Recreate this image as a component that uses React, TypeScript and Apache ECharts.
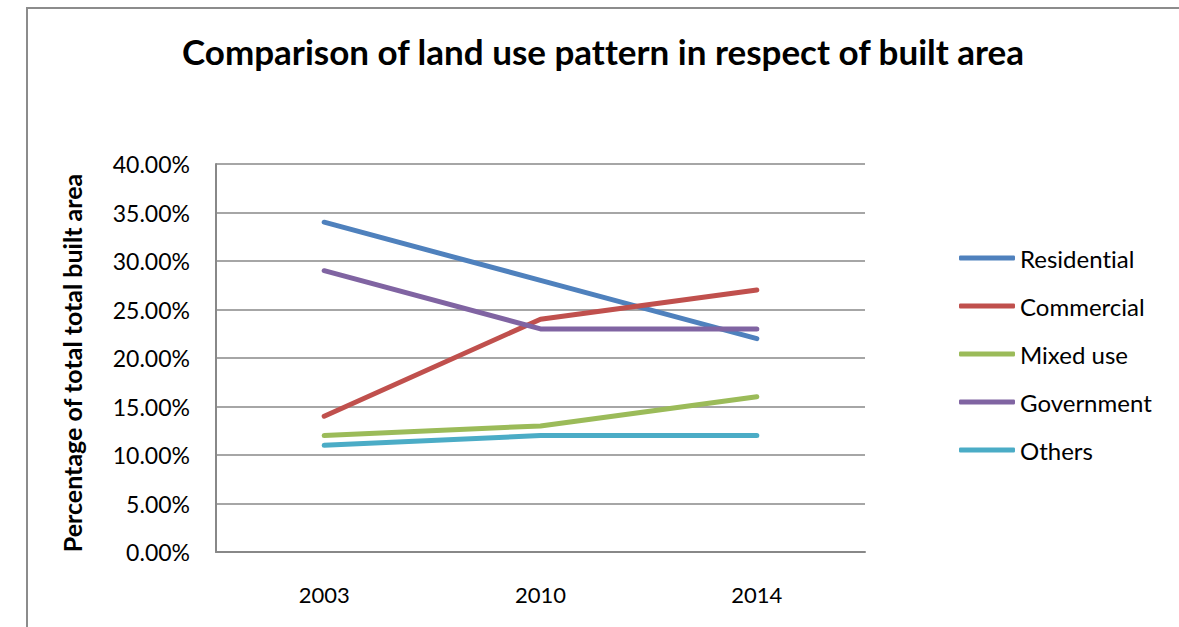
import React, { useEffect, useRef } from "react";
import * as echarts from "echarts";

const years = ["2003", "2010", "2014"];
const residential = [34, 28, 22];
const commercial = [14, 24, 27];
const mixedUse = [12, 13, 16];
const government = [29, 23, 23];
const others = [11, 12, 12];
const seriesNames = ["Residential", "Commercial", "Mixed use", "Government", "Others"];
const colors = ["#4F81BD", "#C0504D", "#9BBB59", "#8064A2", "#4BACC6"];

const FONT = "Lato, 'Open Sans', sans-serif";

export default function App() {
  const ref = useRef<HTMLDivElement>(null);
  useEffect(() => {
    document.body.style.margin = "0";
    const styleEl = document.createElement("style");
    styleEl.textContent = "svg text { font-variant-ligatures: none; font-feature-settings: 'liga' 0; }";
    document.head.appendChild(styleEl);
    const chart = echarts.init(ref.current!, undefined, { renderer: "svg" });
    const data = [residential, commercial, mixedUse, government, others];
    chart.setOption({
      animation: false,
      backgroundColor: "#ffffff",
      textStyle: { fontFamily: FONT },
      graphic: [
        {
          type: "rect",
          shape: { x: 27, y: 8, width: 1200, height: 700 },
          style: { fill: "none", stroke: "#8c8c8c", lineWidth: 2 },
          silent: true,
        },
        {
          type: "text",
          x: 603,
          y: 51,
          style: {
            text: "Comparison of land use pattern in respect of built area",
            fontFamily: FONT,
            fontWeight: "bold",
            fontSize: 35,
            fill: "#000",
            textAlign: "center",
            textVerticalAlign: "middle",
          },
        },
      ],
      legend: {
        orient: "vertical",
        left: 954,
        top: 241,
        icon: "roundRect",
        itemWidth: 56,
        itemHeight: 5,
        itemGap: 24,
        data: seriesNames,
        textStyle: { fontSize: 24, lineHeight: 24, color: "#000", fontFamily: FONT },
      },
      grid: { left: 216, top: 164, right: 314, bottom: 75 },
      xAxis: {
        type: "category",
        data: years,
        boundaryGap: true,
        axisLine: { lineStyle: { color: "#888", width: 2 } },
        axisTick: { show: false },
        axisLabel: { fontSize: 22, color: "#000", margin: 31, fontFamily: FONT },
      },
      yAxis: {
        type: "value",
        min: 0,
        max: 40,
        interval: 5,
        name: "Percentage of total total built area",
        nameLocation: "middle",
        nameRotate: 90,
        nameGap: 132,
        nameTextStyle: {
          fontSize: 25,
          fontWeight: "bold",
          color: "#000",
          fontFamily: FONT,
          padding: [0, 10, 0, 0],
        },
        axisLine: { show: true, lineStyle: { color: "#888", width: 2 } },
        axisTick: { show: false },
        splitLine: { lineStyle: { color: "#888", width: 1.5 } },
        axisLabel: {
          fontSize: 23,
          color: "#000",
          margin: 26,
          fontFamily: FONT,
          formatter: (v: number) => v.toFixed(2) + "%",
        },
      },
      series: seriesNames.map((n, i) => ({
        name: n,
        type: "line",
        data: data[i],
        symbol: "none",
        color: colors[i],
        lineStyle: { width: 5, color: colors[i], cap: "round" },
      })),
    });
    return () => {
      chart.dispose();
      styleEl.remove();
    };
  }, []);
  return <div ref={ref} style={{ width: 1179, height: 627 }} />;
}
